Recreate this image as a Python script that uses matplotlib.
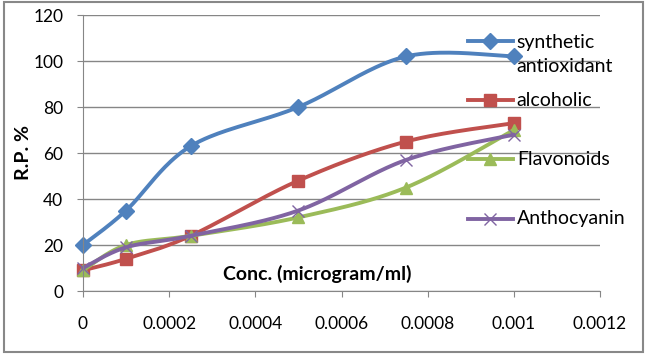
import numpy as np
import matplotlib
matplotlib.use("Agg")
import matplotlib.pyplot as plt
from matplotlib.patches import Rectangle
from matplotlib.transforms import offset_copy

plt.rcParams['font.family'] = ['Lato', 'DejaVu Sans']

conc = [0, 0.0001, 0.00025, 0.0005, 0.00075, 0.001]
synthetic = [20, 35, 63, 80, 102, 102]
alcoholic = [9, 14, 24, 48, 65, 73]
flavonoids = [9, 20, 24, 32, 45, 70]
anthocyanin = [10, 19, 24, 35, 57, 68]

labels = ["synthetic\nantioxidant", "alcoholic", "Flavonoids", "Anthocyanin"]
colors = ["#4F81BD", "#C0504D", "#9BBB59", "#8064A2"]
markers = ["D", "s", "^", "x"]
msizes = [8, 9, 9, 9]
xticks = [0, 0.0002, 0.0004, 0.0006, 0.0008, 0.001, 0.0012]
xticklabels = ["0", "0.0002", "0.0004", "0.0006", "0.0008", "0.001", "0.0012"]


def smooth(xs, ys, n=40):
    # excel-like smoothed line (bezier, catmull-rom control points) in pixel space
    sx, sy = 517 / 0.0012, 276 / 120
    pts = np.c_[np.array(xs) * sx, np.array(ys) * sy]
    ext = np.vstack([pts[0], pts, pts[-1]])
    out = []
    t = np.linspace(0, 1, n)[:, None]
    for i in range(len(pts) - 1):
        p0, p1, p2, p3 = ext[i], ext[i + 1], ext[i + 2], ext[i + 3]
        c1 = p1 + (p2 - p0) / 6
        c2 = p2 - (p3 - p1) / 6
        seg = (1 - t) ** 3 * p1 + 3 * (1 - t) ** 2 * t * c1 + 3 * (1 - t) * t ** 2 * c2 + t ** 3 * p2
        out.append(seg)
    out = np.vstack(out)
    return out[:, 0] / sx, out[:, 1] / sy


fig = plt.figure(figsize=(6.47, 3.57), dpi=100)
ax = fig.add_axes([83 / 647, 66 / 357, 517 / 647, 276 / 357])

series = [synthetic, alcoholic, flavonoids, anthocyanin]
for ys, c, m, ms in zip(series, colors, markers, msizes):
    sxs, sys_ = smooth(conc, ys)
    ax.plot(sxs, sys_, color=c, lw=2.8, solid_capstyle='round', clip_on=False)
    if m == "x":
        ax.plot(conc, ys, ls='none', marker=m, ms=ms, mew=1, color=c, clip_on=False)
    else:
        ax.plot(conc, ys, ls='none', marker=m, ms=ms, color=c, mec=c, clip_on=False)

ax.set_xlim(0, 0.0012)
ax.set_ylim(0, 120)
ax.set_yticks(range(0, 121, 20))
ax.set_xticks(xticks)
ax.set_xticklabels(xticklabels)
ax.yaxis.grid(True, color="#868686", lw=1)
ax.set_axisbelow(True)
for s in ["top", "right"]:
    ax.spines[s].set_visible(False)
for s in ["left", "bottom"]:
    ax.spines[s].set_color("#868686")
ax.tick_params(axis='both', colors="#868686", labelcolor="black", labelsize=12.5, length=4.3)
ax.tick_params(axis='x', pad=14)
ax.tick_params(axis='y', pad=10)

ax.text(0.453, 0.062, "Conc. (microgram/ml)", transform=ax.transAxes, ha='center',
        va='center', fontsize=14, fontweight='bold')
ax.set_ylabel("R.P. %", fontsize=14, fontweight='bold', labelpad=1)

# legend drawn by hand to mimic excel placement
leg_y = [0.906, 0.692, 0.478, 0.261]
for lab, c, m, ms, yy in zip(labels, colors, markers, msizes, leg_y):
    ax.plot([0.745, 0.832], [yy, yy], color=c, lw=2.8, transform=ax.transAxes, clip_on=False)
    if m == "x":
        ax.plot([0.788], [yy], marker=m, ms=ms, mew=1, color=c, transform=ax.transAxes, clip_on=False)
    else:
        ax.plot([0.788], [yy], marker=m, ms=ms, color=c, transform=ax.transAxes, clip_on=False)
    if "\n" in lab:
        tr = offset_copy(ax.transAxes, fig=fig, x=0, y=7, units='dots')
        ax.text(0.839, yy, lab, transform=tr, fontsize=14, va='top', ha='left', linespacing=1.5)
    else:
        ax.text(0.839, yy, lab, transform=ax.transAxes, fontsize=14, va='center', ha='left')

fig.patches.append(Rectangle((4 / 647, 5 / 357), 639 / 647, 350 / 357, transform=fig.transFigure,
                             fill=False, edgecolor="#888888", lw=1.5))

fig.savefig("out.png", dpi=100)
